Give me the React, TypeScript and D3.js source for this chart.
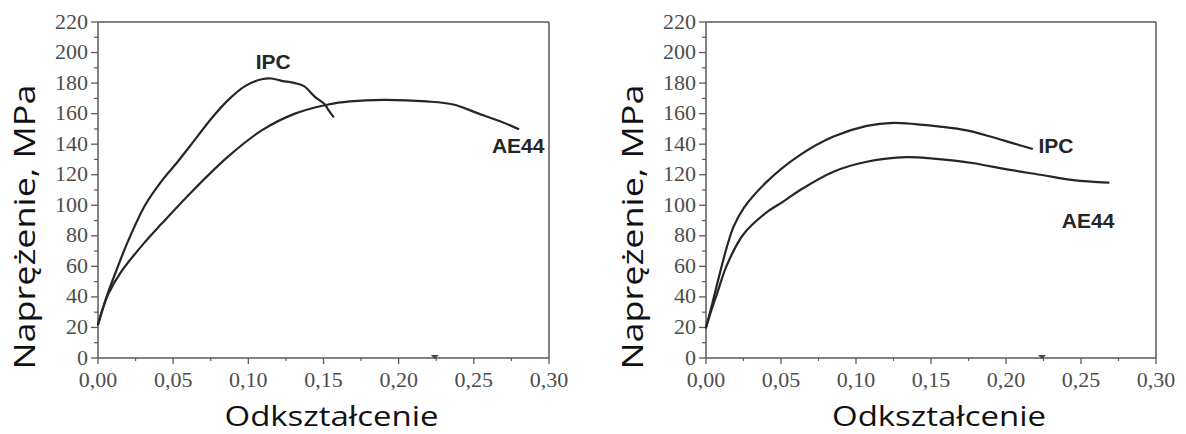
import React from "react";
import * as d3 from "d3";

// ---------- data ----------
const yTicks = [0, 20, 40, 60, 80, 100, 120, 140, 160, 180, 200, 220];
const xTicks = [0, 0.05, 0.1, 0.15, 0.2, 0.25, 0.3];
const xTickLabels = ["0,00", "0,05", "0,10", "0,15", "0,20", "0,25", "0,30"];

const leftIpcStrain = [0, 0.005, 0.0113, 0.0202, 0.0313, 0.0424, 0.0534, 0.0645, 0.0756, 0.0867, 0.0978, 0.1089, 0.1155, 0.1222, 0.131, 0.137, 0.1443, 0.151, 0.1532, 0.1565];
const leftIpcStress = [22, 38, 55, 77, 100, 116, 129, 143, 157, 169, 178, 182.5, 183, 181.5, 180, 178, 171, 166, 162.5, 158];

const leftAe44Strain = [0, 0.0035, 0.0069, 0.0158, 0.0313, 0.0424, 0.0645, 0.0867, 0.1089, 0.131, 0.1532, 0.1676, 0.1898, 0.2186, 0.2364, 0.2519, 0.2674, 0.2796];
const leftAe44Stress = [22, 33, 42, 57, 76, 88, 111, 132, 149, 160, 166, 168, 169, 168, 166, 160.5, 155, 150];

const rightIpcStrain = [0, 0.0035, 0.0073, 0.014, 0.0184, 0.025, 0.0406, 0.0628, 0.085, 0.1072, 0.125, 0.1406, 0.156, 0.1738, 0.1895, 0.205, 0.2173];
const rightIpcStress = [20, 33, 48, 73, 86, 98, 115.5, 133, 145, 152, 154, 153, 151.5, 149, 145, 140.5, 137];

const rightAe44Strain = [0, 0.0035, 0.0073, 0.014, 0.025, 0.0406, 0.0517, 0.0628, 0.085, 0.1072, 0.1338, 0.1516, 0.1784, 0.2006, 0.2228, 0.245, 0.2683];
const rightAe44Stress = [20, 31, 42, 61, 81, 95.5, 102.5, 110, 122, 128.5, 131.5, 130.5, 127.5, 123.5, 120, 116.5, 114.8];

const markerStrain = [0.224];

const yTitle = "Naprężenie, MPa";
const xTitle = "Odkształcenie";

type Series = { strain: number[]; stress: number[] };
type Label = { text: string; x: number; y: number };

const panels = [
  {
    x0: 98,
    x1: 549,
    series: [
      { strain: leftIpcStrain, stress: leftIpcStress },
      { strain: leftAe44Strain, stress: leftAe44Stress },
    ] as Series[],
    labels: [
      { text: "IPC", x: 0.1166, y: 194 },
      { text: "AE44", x: 0.2795, y: 139 },
    ] as Label[],
  },
  {
    x0: 706,
    x1: 1156,
    series: [
      { strain: rightIpcStrain, stress: rightIpcStress },
      { strain: rightAe44Strain, stress: rightAe44Stress },
    ] as Series[],
    labels: [
      { text: "IPC", x: 0.2333, y: 139 },
      { text: "AE44", x: 0.2547, y: 90 },
    ] as Label[],
  },
];

const TOP = 22;
const BOTTOM = 358;
const AXIS = "#5a5a5a";
const TICK_TXT = "#4d4d4d";
const SERIF = "Liberation Serif";

function Panel({ x0, x1, series, labels }: { x0: number; x1: number; series: Series[]; labels: Label[] }) {
  const x = d3.scaleLinear().domain([0, 0.3]).range([x0, x1]);
  const y = d3.scaleLinear().domain([0, 220]).range([BOTTOM, TOP]);
  const line = d3
    .line<[number, number]>()
    .x((d) => x(d[0]))
    .y((d) => y(d[1]))
    .curve(d3.curveCatmullRom.alpha(0.5));
  const yMinor = d3.range(10, 220, 20);
  const xMinor = d3.range(0.025, 0.3, 0.05);
  const mid = (x0 + x1) / 2;
  return (
    <g>
      {/* frame */}
      <line x1={x0} x2={x1} y1={TOP} y2={TOP} stroke={AXIS} strokeWidth={1.5} />
      <line x1={x1} x2={x1} y1={TOP} y2={BOTTOM} stroke={AXIS} strokeWidth={1.5} />
      <line x1={x0} x2={x0} y1={TOP} y2={BOTTOM} stroke={AXIS} strokeWidth={1.5} />
      <line x1={x0} x2={x1} y1={BOTTOM} y2={BOTTOM} stroke={AXIS} strokeWidth={1.5} />
      {/* y ticks */}
      {yTicks.map((t) => (
        <g key={"y" + t}>
          <line x1={x0 - 7} x2={x0} y1={y(t)} y2={y(t)} stroke={AXIS} strokeWidth={1.3} />
          <text x={x0 - 10} y={y(t) + 6.5} textAnchor="end" fontFamily={SERIF} fontSize={22} fill={TICK_TXT}>
            {t}
          </text>
        </g>
      ))}
      {yMinor.map((t) => (
        <line key={"ym" + t} x1={x0 - 4} x2={x0} y1={y(t)} y2={y(t)} stroke={AXIS} strokeWidth={1.2} />
      ))}
      {/* x ticks */}
      {xTicks.map((t, i) => (
        <g key={"x" + t}>
          <line x1={x(t)} x2={x(t)} y1={BOTTOM} y2={BOTTOM + 6} stroke={AXIS} strokeWidth={1.3} />
          <text x={x(t)} y={BOTTOM + 29} textAnchor="middle" fontFamily={SERIF} fontSize={22} fill={TICK_TXT}>
            {xTickLabels[i]}
          </text>
        </g>
      ))}
      {xMinor.map((t) => (
        <line key={"xm" + t} x1={x(t)} x2={x(t)} y1={BOTTOM} y2={BOTTOM + 3} stroke={AXIS} strokeWidth={1.2} />
      ))}
      {markerStrain.map((m) => (
        <path key={"mk" + m} d={`M${x(m) - 4},${BOTTOM - 3} L${x(m) + 4},${BOTTOM - 3} L${x(m)},${BOTTOM + 1} Z`} fill="#444" />
      ))}
      {/* curves */}
      {series.map((s, i) => (
        <path
          key={"s" + i}
          d={line(s.strain.map((v, j) => [v, s.stress[j]] as [number, number])) || ""}
          fill="none"
          stroke="#262626"
          strokeWidth={2.2}
          strokeLinejoin="round"
          strokeLinecap="round"
        />
      ))}
      {labels.map((l) => (
        <text
          key={l.text}
          x={x(l.x)}
          y={y(l.y)}
          textAnchor="middle"
          dominantBaseline="central"
          fontFamily="'Liberation Sans', Arial, sans-serif"
          fontWeight="bold"
          fontSize={21}
          fill="#262626"
        >
          {l.text}
        </text>
      ))}
      {/* axis titles */}
      <text
        transform={`translate(${x0 - 63},227) rotate(-90)`}
        textAnchor="middle"
        fontFamily="'Open Sans', 'Noto Sans', sans-serif"
        fontSize={30}
        fill="#111"
        textLength={285}
        lengthAdjust="spacingAndGlyphs"
      >
        {yTitle}
      </text>
      <text
        x={mid + 8}
        y={426}
        textAnchor="middle"
        fontFamily="'Open Sans', 'Noto Sans', sans-serif"
        fontSize={27}
        fill="#111"
        textLength={214}
        lengthAdjust="spacingAndGlyphs"
      >
        {xTitle}
      </text>
    </g>
  );
}

export default function App() {
  return (
    <svg width={1186} height={434} style={{ position: "absolute", left: 0, top: 0, background: "#fff" }}>
      <rect x={0} y={0} width={1186} height={434} fill="#fff" />
      {panels.map((p, i) => (
        <Panel key={i} {...p} />
      ))}
    </svg>
  );
}
